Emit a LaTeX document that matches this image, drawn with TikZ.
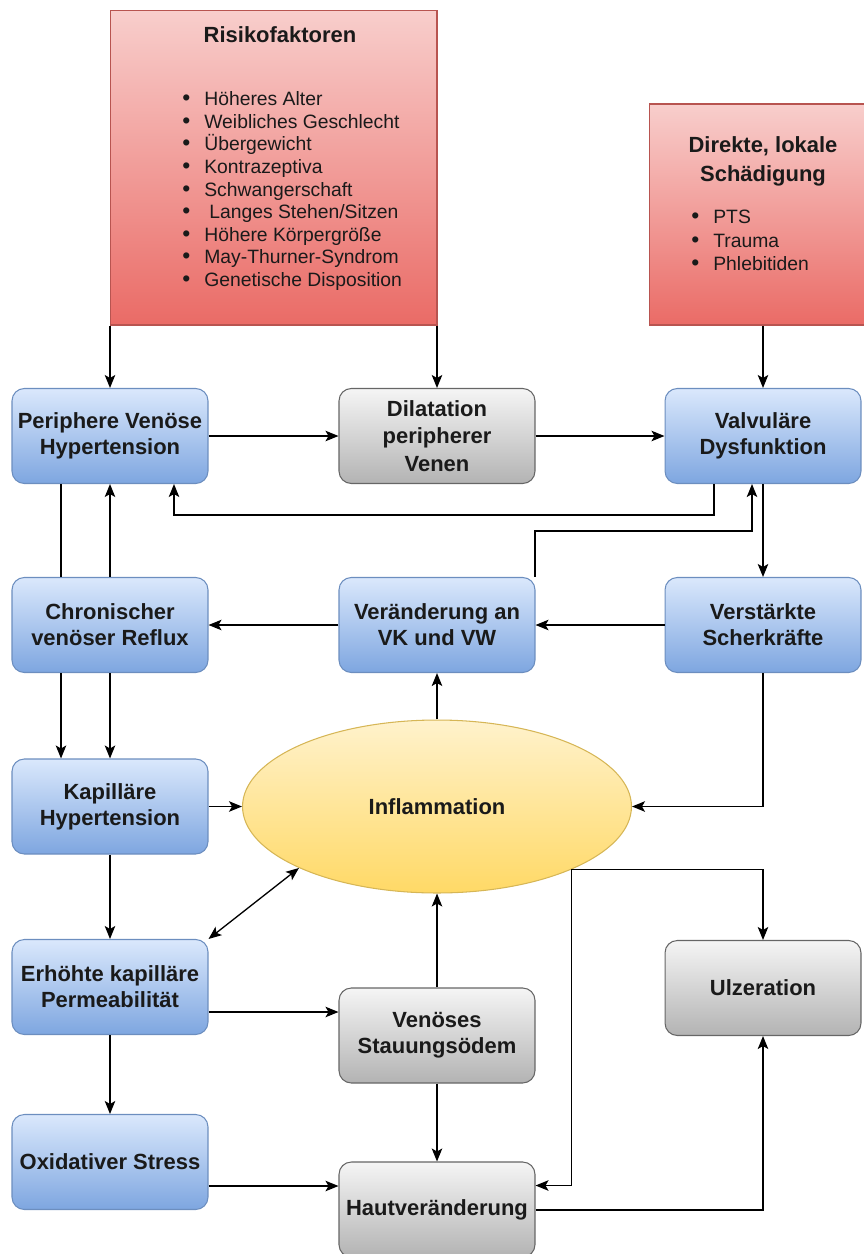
\documentclass[tikz,border=0pt]{standalone}
\usepackage{fontspec}
\setmainfont{Liberation Sans}
\usetikzlibrary{arrows.meta,shapes.geometric,calc}
\definecolor{bluetop}{HTML}{DAE8FC}
\definecolor{bluebot}{HTML}{7EA6E0}
\definecolor{blueline}{HTML}{6C8EBF}
\definecolor{graytop}{HTML}{F5F5F5}
\definecolor{graybot}{HTML}{B3B3B3}
\definecolor{grayline}{HTML}{666666}
\definecolor{redtop}{HTML}{F8CECC}
\definecolor{redbot}{HTML}{EA6B66}
\definecolor{redline}{HTML}{B85450}
\definecolor{yeltop}{HTML}{FFF2CC}
\definecolor{yelbot}{HTML}{FFD966}
\definecolor{yelline}{HTML}{D6B656}
\definecolor{txt}{HTML}{1A1A1A}
\tikzset{
  bluebox/.style={rectangle, rounded corners=7pt, draw=blueline, line width=0.6pt,
    top color=bluetop, bottom color=bluebot, minimum width=3.92cm, minimum height=1.9cm,
    align=center, inner sep=0pt, text=txt, font=\bfseries\fontsize{12.5}{14.8}\selectfont},
  graybox/.style={bluebox, draw=grayline, top color=graytop, bottom color=graybot},
  redbox/.style={rectangle, draw=redline, line width=0.6pt, top color=redtop, bottom color=redbot, inner sep=0pt},
  ellbox/.style={ellipse, draw=yelline, line width=0.6pt, top color=yeltop, bottom color=yelbot,
    minimum width=7.78cm, minimum height=3.46cm, inner sep=0pt, text=txt,
    font=\bfseries\fontsize{12.5}{14.8}\selectfont},
  titletext/.style={align=center, inner sep=0pt, text=txt},
  listtext/.style={align=left, inner sep=0pt, text=txt},
  arr/.style={line width=0.75pt, -{Stealth[length=0.26cm,width=0.21cm,inset=0.06cm]}},
  dblarr/.style={line width=0.75pt, {Stealth[length=0.26cm,width=0.21cm,inset=0.06cm]}-{Stealth[length=0.26cm,width=0.21cm,inset=0.06cm]}},
  plain/.style={line width=0.75pt}
}
\newcommand{\bul}{\makebox[0.44cm][l]{\fontsize{13}{9}\selectfont•}}
\begin{document}
\begin{tikzpicture}[x=0.02cm, y=-0.02cm]
\useasboundingbox (0,0) rectangle (864,1254);
\clip (0,0) rectangle (864,1254);
% red boxes
\node[redbox, minimum width=6.54cm, minimum height=6.3cm] (risk) at (273.5,167.5) {};
\node[titletext, font=\bfseries\fontsize{12.5}{14.8}\selectfont] (risktitle) at (280,35) {Risikofaktoren};
\node[listtext, anchor=west, font=\fontsize{11}{12.9}\selectfont] (risklist) at (182,191) {%
\bul Höheres Alter\\
\bul Weibliches Geschlecht\\
\bul Übergewicht\\
\bul Kontrazeptiva\\
\bul Schwangerschaft\\
\bul\hspace{0.1cm}Langes Stehen/Sitzen\\
\bul Höhere Körpergröße\\
\bul May-Thurner-Syndrom\\
\bul Genetische Disposition};
\node[redbox, minimum width=4.44cm, minimum height=4.42cm] (dir) at (760,214.5) {};
\node[titletext, font=\bfseries\fontsize{12.5}{16.5}\selectfont] (dirtitle) at (763,161.5) {Direkte, lokale\\Schädigung};
\node[listtext, anchor=west, font=\fontsize{11}{13.3}\selectfont] (dirlist) at (691,240.5) {%
\bul PTS\\
\bul Trauma\\
\bul Phlebitiden};
% main boxes
\node[bluebox] (per) at (110,436) {Periphere Venöse\\Hypertension};
\node[graybox, font=\bfseries\fontsize{12.5}{15.6}\selectfont] (dil) at (437,436) {Dilatation\\peripherer\\Venen};
\node[bluebox] (val) at (763,436) {Valvuläre\\Dysfunktion};
\node[bluebox] (chr) at (110,625) {Chronischer\\venöser Reflux};
\node[bluebox] (ver) at (437,625) {Veränderung an\\VK und VW};
\node[bluebox] (sch) at (763,625) {Verstärkte\\Scherkräfte};
\node[bluebox] (kap) at (110,806.5) {Kapilläre\\Hypertension};
\node[ellbox] (infl) at (437,806.5) {Inflammation};
\node[bluebox] (erh) at (110,987) {Erhöhte kapilläre\\Permeabilität};
\node[graybox] (ulz) at (763,988) {Ulzeration};
\node[graybox] (sta) at (437,1035.5) {Venöses\\Stauungsödem};
\node[bluebox] (oxi) at (110,1162) {Oxidativer Stress};
\node[graybox] (hau) at (437,1209.5) {Hautveränderung};
% connectors
\draw[arr] (risk.south -| per.north) -- (per.north);
\draw[arr] (risk.south -| dil.north) -- (dil.north);
\draw[arr] (dir.south -| val.north) -- (val.north);
\draw[arr] (per) -- (dil);
\draw[arr] (dil) -- (val);
\draw[arr] ($(val.south)+(-49,0)$) -- ++(0,31) -| ($(per.south)+(64,0)$);
\draw[arr] ($(ver.north)+(98,0)$) -- ++(0,-46) -| ($(val.south)+(-11,0)$);
\draw[plain] ($(per.south)+(-49,0)$) -- ($(chr.north)+(-49,0)$);
\draw[arr] (chr.north) -- (per.south);
\draw[arr] ($(chr.south)+(-49,0)$) -- ($(kap.north)+(-49,0)$);
\draw[arr] (chr.south) -- (kap.north);
\draw[arr] (val.south) -- (sch.north);
\draw[arr] (sch) -- (ver);
\draw[arr] (ver) -- (chr);
\draw[arr] (infl.north) -- (ver.south);
\draw[arr] (sch.south) |- (infl.east);
\draw[arr] (kap.east) -- (infl.west);
\draw[arr] (kap) -- (erh);
\draw[dblarr] (erh.north east) -- (infl.204.4);
\draw[arr] ($(erh.east)+(0,25)$) -- ($(sta.west)+(0,-23.5)$);
\draw[arr] (sta.north) -- (infl.south);
\draw[arr] (sta) -- (hau);
\draw[arr] (erh) -- (oxi);
\draw[arr] ($(oxi.east)+(0,24)$) -- ($(hau.west)+(0,-23.5)$);
\draw[arr] (infl.335.3) -| (ulz.north);
\draw[arr] (infl.335.3) |- ($(hau.east)+(0,-24)$);
\draw[arr] ($(hau.east)+(0,0.5)$) -| (ulz.south);
\end{tikzpicture}
\end{document}
